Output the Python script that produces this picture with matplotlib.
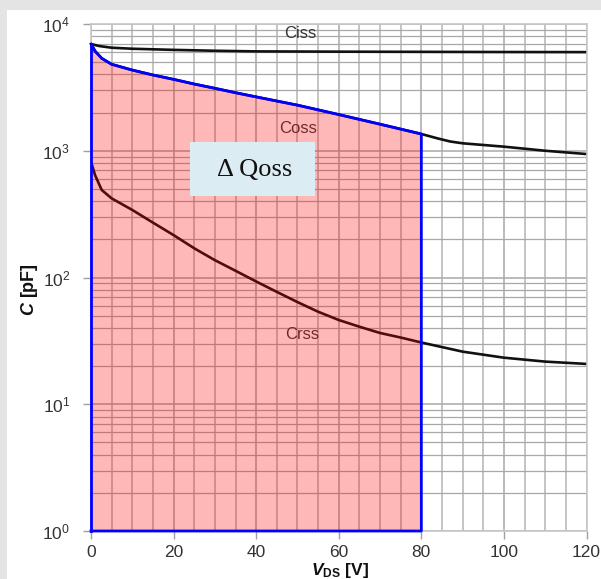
import matplotlib
matplotlib.use("Agg")
import matplotlib.pyplot as plt
from matplotlib.patches import Rectangle
import numpy as np

plt.rcParams['font.family'] = ['Liberation Sans', 'DejaVu Sans']
plt.rcParams['mathtext.fontset'] = 'custom'
plt.rcParams['mathtext.it'] = 'Liberation Sans:italic:bold'
plt.rcParams['mathtext.rm'] = 'Liberation Sans:bold'
plt.rcParams['mathtext.bf'] = 'Liberation Sans:bold'

# ---- data ----
ciss_v = [0, 2, 5, 10, 20, 30, 40, 60, 80, 100, 120]
ciss_c = [6950, 6700, 6500, 6380, 6250, 6150, 6080, 6050, 6030, 6010, 6000]

coss_v = [0, 1, 2.6, 5, 10, 15, 20, 25, 30, 35, 40, 50, 60, 70, 80,
          84, 87, 90, 100, 110, 120]
coss_c = [6950, 6100, 5360, 4810, 4330, 3960, 3660, 3360, 3110, 2870, 2660,
          2290, 1930, 1620, 1356, 1250, 1183, 1145, 1077, 1000, 942]

crss_v = [0, 1, 2.6, 5, 10, 15, 20, 25, 30, 35, 40, 45, 50, 55, 60, 65, 70,
          75, 80, 90, 100, 110, 120]
crss_c = [820, 640, 490, 421, 341, 271, 216, 170, 137, 113, 93, 77, 64,
          53.7, 46.2, 40.9, 36.5, 33.6, 30.7, 26.0, 23.3, 21.7, 20.8]

vds_end = 80
x_ticks = [0, 20, 40, 60, 80, 100, 120]
curve_labels = ["Ciss", "Coss", "Crss"]
box_label = "Δ Qoss"

# ---- figure ----
fig = plt.figure(figsize=(6.01, 5.79), dpi=100, facecolor='white')
# gray frame strips (top and left)
fig.patches.append(Rectangle((0, 1 - 9.5/579), 1, 9.5/579, transform=fig.transFigure,
                             facecolor='#e4e4e4', edgecolor='none', zorder=0))
fig.patches.append(Rectangle((0, 0), 7/601, 1, transform=fig.transFigure,
                             facecolor='#e4e4e4', edgecolor='none', zorder=0))

ax = fig.add_axes([91/601, 48/579, 495.5/601, 507/579])
ax.set_yscale('log')
ax.set_xlim(0, 120)
ax.set_ylim(1, 1e4)

ax.set_xticks(x_ticks)
ax.set_xticks(np.arange(0, 121, 5), minor=True)
ax.grid(True, which='major', axis='both', color='#a8a8a8', lw=1.1, zorder=0)
ax.grid(True, which='minor', axis='y', color='#a8a8a8', lw=0.9, zorder=0)
ax.grid(True, which='minor', axis='x', color='#c4c4c4', lw=1.4, zorder=0)
ax.set_axisbelow(True)

for s in ax.spines.values():
    s.set_color('#c8c8c8')
    s.set_linewidth(1.2)

ax.tick_params(axis='both', which='major', length=6, width=1, color='#a0a0a0',
               labelcolor='#333333', labelsize=12.5, pad=4)
ax.tick_params(axis='y', which='major', pad=9)
ax.tick_params(axis='both', which='minor', length=0)

# curves (drawn below the fill, so they become tinted inside it)
ax.plot(ciss_v, ciss_c, color='#111111', lw=1.9, zorder=2)
ax.plot(coss_v, coss_c, color='#111111', lw=1.9, zorder=2)
ax.plot(crss_v, crss_c, color='#111111', lw=1.9, zorder=2)

ax.text(50.6, 8340, curve_labels[0], fontsize=12, color='#333333',
        ha='center', va='center', zorder=2)
ax.text(50.1, 1486, curve_labels[1], fontsize=12, color='#3a3a3a',
        ha='center', va='center', zorder=2)
ax.text(51.1, 35.8, curve_labels[2], fontsize=12, color='#3a3a3a',
        ha='center', va='center', zorder=2)

# shaded Qoss region
cv = np.array(coss_v, dtype=float)
cc = np.array(coss_c, dtype=float)
m = cv <= vds_end
fx = cv[m]
fy = cc[m]
ax.fill_between(fx, 1, fy, color='red', alpha=0.28, lw=0, zorder=3)
bx = np.concatenate([fx, [vds_end, 0]])
by = np.concatenate([fy, [1, 1]])
ax.plot(bx, by, color='#0000ff', lw=2.0, zorder=4, clip_on=False)
ax.plot([0, 0], [1, fy[0]], color='#0000ff', lw=2.0, zorder=4, clip_on=False)

# ΔQoss box
ax.add_patch(Rectangle((0.1998, 0.661), 0.2525, 0.107, transform=ax.transAxes,
                       facecolor='#dbedf3', edgecolor='none', zorder=5))
ax.text(0.331, 0.713, box_label, transform=ax.transAxes, fontsize=19,
        family=['Liberation Serif', 'DejaVu Serif'], color='#111111',
        ha='center', va='center', zorder=6)

# axis labels
fig.text(340/601, 1 - 570/579, r'$V_{\mathrm{DS}}$ [V]', fontsize=12.5,
         fontweight='bold', color='#111111', ha='center', va='center')
fig.text(30/601, 1 - 290/579, r'$C$ [pF]', fontsize=13, fontweight='bold',
         color='#111111', ha='center', va='center', rotation=90)

fig.savefig('out.png', dpi=100, facecolor=fig.get_facecolor())
